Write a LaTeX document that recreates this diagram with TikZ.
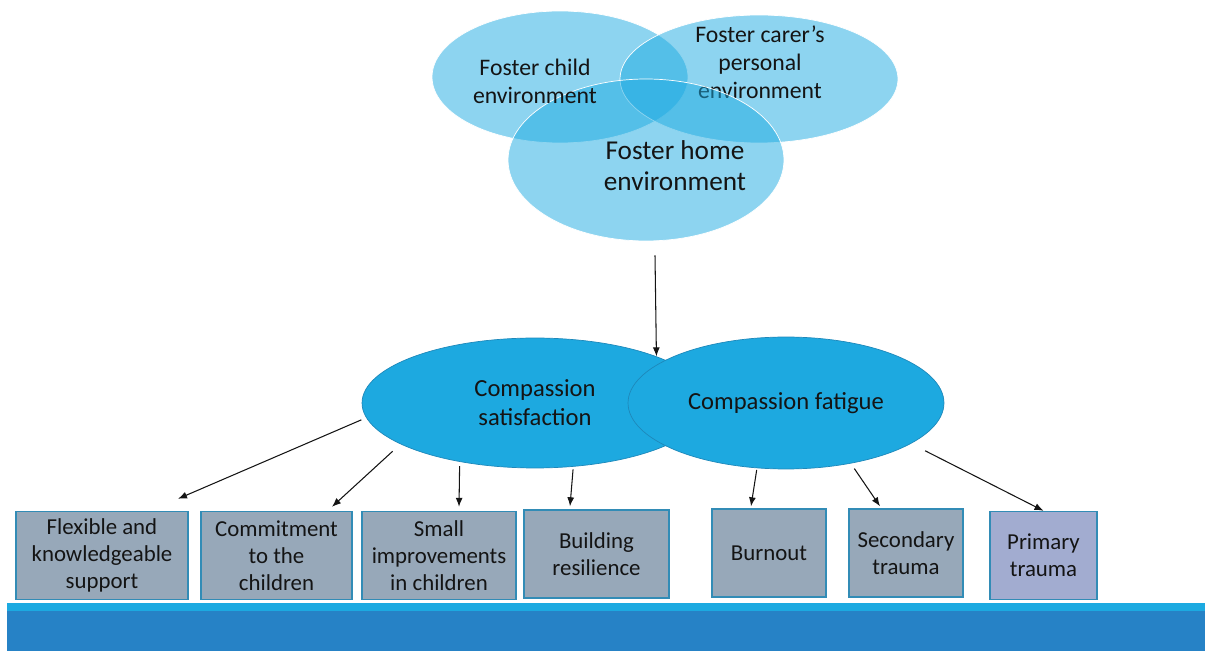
\documentclass[tikz,border=0pt]{standalone}
\usepackage{fontspec}
\setmainfont{Carlito}
\usepackage{xcolor}
\usetikzlibrary{
  arrows.meta, positioning, calc,
  shapes.geometric
}
\definecolor{vennblue}{RGB}{28,170,225}
\definecolor{ovalblue}{RGB}{29,169,224}
\definecolor{ovaledge}{RGB}{30,136,186}
\definecolor{boxgray}{RGB}{151,168,185}
\definecolor{boxlilac}{RGB}{162,172,208}
\definecolor{boxedge}{RGB}{50,140,182}
\definecolor{bandlight}{RGB}{28,170,225}
\definecolor{banddark}{RGB}{38,130,198}
\definecolor{inktext}{RGB}{20,20,20}

\begin{document}
\begin{tikzpicture}
      [x=0.02cm, y=-0.02cm, >={Latex[length=1.8mm,width=1.4mm]},
       venn/.style={ellipse,draw=white,thin,fill=vennblue,fill opacity=0.5,inner sep=0},
       venntext/.style={align=center,text=inktext,font=\fontsize{13.5}{16}\selectfont},
       oval/.style={ellipse,draw=ovaledge,thin,fill=ovalblue,inner sep=0,align=center,
                    text=inktext,font=\fontsize{14}{16.5}\selectfont},
       outcome/.style={rectangle,draw=boxedge,line width=0.8pt,fill=boxgray,
                       minimum height=1.76cm,align=center,text=inktext,
                       font=\fontsize{13}{15.3}\selectfont},
       link/.style={->,draw=inktext,line width=0.6pt}]
        \useasboundingbox (0,0) rectangle (1205,651);

        % three environments
        \node (child) at (560,77) [venn, minimum width=5.12cm, minimum height=2.64cm] {};
        \node (carer) at (759,79) [venn, minimum width=5.56cm, minimum height=2.56cm] {};
        \node (carertxt) at (760,62) [venntext] {Foster carer’s\\personal\\environment};
        \node (home) at (646,160) [venn, minimum width=5.52cm, minimum height=3.24cm] {};
        \node (childtxt) at (535,81) [venntext] {Foster child\\environment};
        \node (hometxt) at (675,166) [venntext, font=\fontsize{15.5}{17.5}\selectfont] {Foster home\\environment};

        % compassion
        \node (sat) at (535,403) [oval, minimum width=6.92cm, minimum height=2.6cm] {Compassion\\satisfaction};
        \node (fat) at (786,403) [oval, minimum width=6.32cm, minimum height=2.64cm] {Compassion fatigue};

        \draw[link] ($(home.south)+(9,14)$) -- (sat.21);

        % outcomes
        \node (flex) at (102,555.5) [outcome, minimum width=3.44cm] {Flexible and\\knowledgeable\\support};
        \node (commit) at (276.5,555.5) [outcome, minimum width=3.02cm] {Commitment\\to the\\children};
        \node (small) at (439,555.5) [outcome, minimum width=3.08cm] {Small\\improvements\\in children};
        \node (build) at (596.5,554) [outcome, minimum width=2.9cm] {Building\\resilience};
        \node (burn) at (769,553) [outcome, minimum width=2.28cm] {Burnout};
        \node (second) at (906,553) [outcome, minimum width=2.28cm] {Secondary\\trauma};
        \node (primary) at (1043.5,555.5) [outcome, minimum width=2.14cm, fill=boxlilac] {Primary\\trauma};

        \draw[link, shorten <=3pt] (sat.185) -- ($(flex.north)+(76,-12)$);
        \draw[link, shorten <=6pt] (sat.197) -- ($(commit.north)+(55.5,-4)$);
        \draw[link, shorten <=2.5pt] (sat.218) -- ($(small.north)+(20,-4)$);
        \draw[link, shorten <=1.5pt] (sat.301) -- ($(build.north)+(-26.5,-3)$);
        \draw[link, shorten <=1pt] (fat.246) -- ($(burn.north)+(-18,-2)$);
        \draw[link, shorten <=3.5pt] (fat.317) -- ($(second.north)+(-26,-2)$);
        \draw[link, shorten <=9pt] (fat.342) -- (primary.north);

        % footer band
        \fill[bandlight] (7,603) rectangle (1205,611);
        \fill[banddark] (7,611) rectangle (1205,651);
      \end{tikzpicture}
\end{document}
